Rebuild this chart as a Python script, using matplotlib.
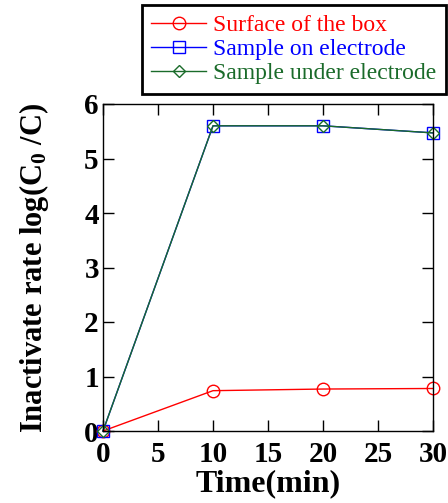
import matplotlib
matplotlib.use('Agg')
import matplotlib.pyplot as plt

# Data
time = [0, 10, 20, 30]
surface_box = [0, 0.74, 0.77, 0.78]
on_electrode = [0, 5.6, 5.6, 5.47]
under_electrode = [0, 5.6, 5.6, 5.47]
labels = ['Surface of the box', 'Sample on electrode', 'Sample under electrode']
colors = ['#ff0000', '#0000ff', '#1a6b2a']

plt.rcParams['font.family'] = 'Liberation Serif'
plt.rcParams['mathtext.fontset'] = 'custom'
plt.rcParams['mathtext.rm'] = 'Liberation Serif:bold'
plt.rcParams['mathtext.bf'] = 'Liberation Serif:bold'
plt.rcParams['mathtext.default'] = 'bf'

fig = plt.figure(figsize=(4.48, 5.03), dpi=100)
ax = fig.add_axes([103 / 448, 1 - 431 / 503, 330 / 448, 327 / 503])

ax.plot(time, surface_box, color=colors[0], lw=1, marker='o', ms=9,
        mfc='none', mec=colors[0], mew=1, label=labels[0], clip_on=False)
ax.plot(time, on_electrode, color=colors[1], lw=1, marker='s', ms=9,
        mfc='none', mec=colors[1], mew=1, label=labels[1], clip_on=False)
ax.plot(time, under_electrode, color=colors[2], lw=1, marker='D', ms=6,
        mfc='none', mec=colors[2], mew=1, label=labels[2], clip_on=False)

ax.set_xlim(0, 30)
ax.set_ylim(0, 6)
ax.set_xticks(range(0, 31, 5))
ax.set_yticks(range(0, 7))
ax.tick_params(direction='in', length=8, width=1, top=True, right=True,
               labelsize=21)
ax.tick_params(axis='x', pad=7)
ax.tick_params(axis='y', pad=3)
for lab in ax.get_xticklabels() + ax.get_yticklabels():
    lab.set_fontweight('bold')
for s in ax.spines.values():
    s.set_linewidth(1)

ax.set_xlabel('Time(min)', fontsize=23, fontweight='bold', labelpad=1)
ax.set_ylabel('Inactivate rate log(C$_{0}$ /C)', fontsize=22,
              fontweight='bold', labelpad=24)

leg = fig.legend(loc='upper right', bbox_to_anchor=(446 / 448, 1 - 5 / 503),
                 bbox_transform=fig.transFigure, borderaxespad=0,
                 fontsize=17, handlelength=2.3, labelspacing=0.1,
                 handletextpad=0.3, borderpad=0.42, fancybox=False,
                 framealpha=1, edgecolor='black')
leg.get_frame().set_linewidth(2)
for txt, c in zip(leg.get_texts(), colors):
    txt.set_color(c)

fig.savefig('out.png', dpi=100)
